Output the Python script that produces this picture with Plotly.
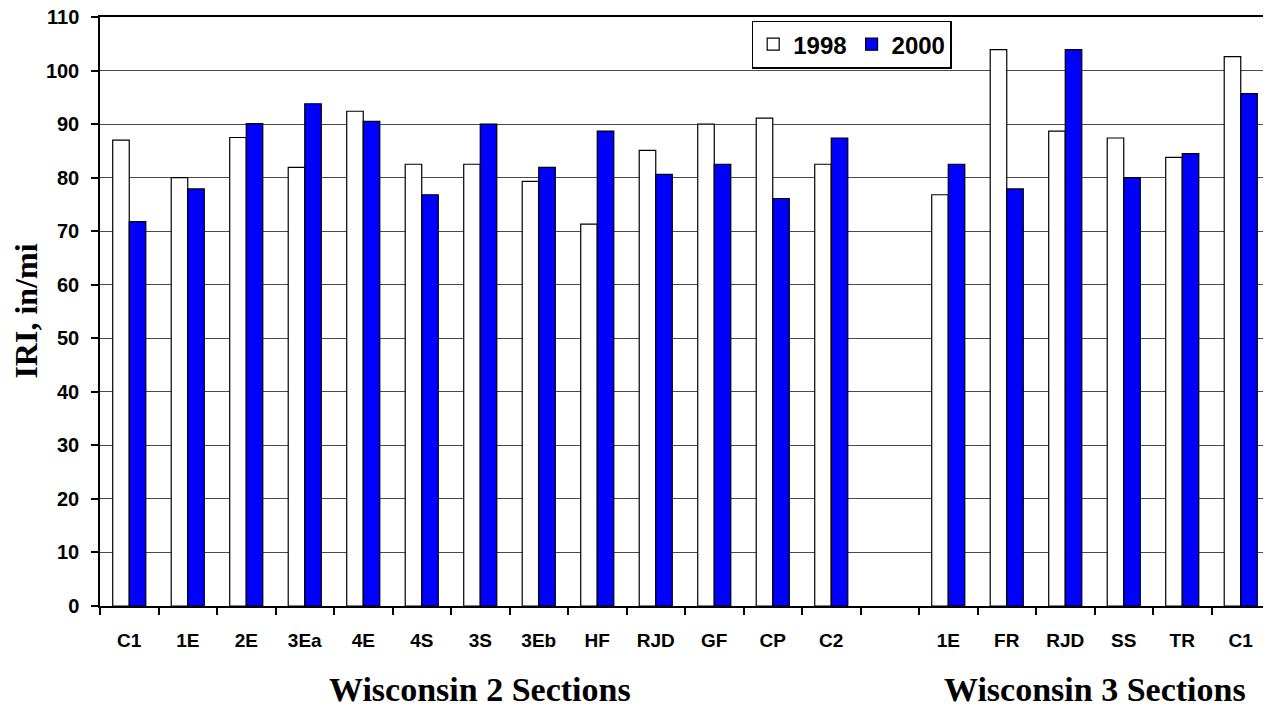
import plotly.graph_objects as go

# IRI by section, Wisconsin 2 and Wisconsin 3
wi2_sections = ["C1", "1E", "2E", "3Ea", "4E", "4S", "3S", "3Eb", "HF", "RJD", "GF", "CP", "C2"]
wi2_1998 = [87.0, 80.0, 87.5, 81.9, 92.4, 82.5, 82.5, 79.3, 71.3, 85.1, 90.0, 91.1, 82.5]
wi2_2000 = [71.8, 77.9, 90.1, 93.8, 90.5, 76.8, 90.0, 81.9, 88.7, 80.6, 82.5, 76.1, 87.4]

wi3_sections = ["1E", "FR", "RJD", "SS", "TR", "C1"]
wi3_1998 = [76.8, 103.9, 88.7, 87.4, 83.8, 102.6]
wi3_2000 = [82.5, 77.9, 103.9, 80.0, 84.5, 95.7]

group_names = ["Wisconsin 2 Sections", "Wisconsin 3 Sections"]

# one empty slot between the two groups
x2 = list(range(len(wi2_sections)))
x3 = [len(wi2_sections) + 1 + i for i in range(len(wi3_sections))]
xs = x2 + x3
labels = wi2_sections + wi3_sections
n_slots = len(wi2_sections) + 1 + len(wi3_sections)

fig = go.Figure()
fig.add_trace(go.Bar(x=xs, y=wi2_1998 + wi3_1998, name="1998",
                     marker=dict(color="white", line=dict(color="black", width=1.2))))
fig.add_trace(go.Bar(x=xs, y=wi2_2000 + wi3_2000, name="2000",
                     marker=dict(color="#0000FF", line=dict(color="black", width=1.2))))

sans = "Liberation Sans, Arial"
serif = "Liberation Serif, Times New Roman"

# page body has an 8px margin, so the figure is sized to fit inside the window
fig.update_layout(
    width=1263, height=700,
    margin=dict(l=92, r=1, t=9, b=102),
    paper_bgcolor="white", plot_bgcolor="white",
    barmode="group", bargap=0.435, bargroupgap=0,
    showlegend=True,
    legend=dict(orientation="h", x=0.557, y=0.994, xanchor="left", yanchor="top",
                bgcolor="white", bordercolor="black", borderwidth=1.5,
                font=dict(family=sans, size=24, color="black", weight="bold"),
                itemwidth=30, tracegroupgap=0),
    xaxis=dict(range=[-0.5, n_slots - 0.5], tickmode="array", tickvals=xs, ticktext=labels,
               ticks="", ticklabelstandoff=16, automargin=False,
               tickfont=dict(family=sans, size=19, color="black", weight="bold"),
               showgrid=False, showline=True, linecolor="black", linewidth=2, mirror=True,
               minor=dict(tickmode="array", tickvals=[i - 0.5 for i in range(n_slots + 1)],
                          ticks="outside", ticklen=7, tickcolor="black", tickwidth=1.5,
                          showgrid=False),
               zeroline=False),
    yaxis=dict(range=[0, 110], tickmode="linear", tick0=0, dtick=10,
               ticks="outside", ticklen=7, tickcolor="black", tickwidth=1.5,
               ticklabelstandoff=8, automargin=False, ticklabeloverflow="allow",
               tickfont=dict(family=sans, size=20, color="black", weight="bold"),
               showgrid=True, gridcolor="#4a4a4a", gridwidth=1,
               showline=True, linecolor="black", linewidth=1.5, mirror=True,
               zeroline=False),
)

fig.add_annotation(text="<b>IRI, in/mi</b>", textangle=-90, xref="paper", yref="paper",
                   x=-0.064, y=0.5, xanchor="center", yanchor="middle", showarrow=False,
                   font=dict(family=serif, size=32, color="black"))

for name, grp in zip(group_names, [x2, x3]):
    fig.add_annotation(text="<b>" + name + "</b>", xref="x", yref="paper",
                       x=sum(grp) / len(grp), y=-0.142, xanchor="center", yanchor="middle",
                       showarrow=False,
                       font=dict(family=serif, size=34, color="black"))

fig.write_html("out.html")
